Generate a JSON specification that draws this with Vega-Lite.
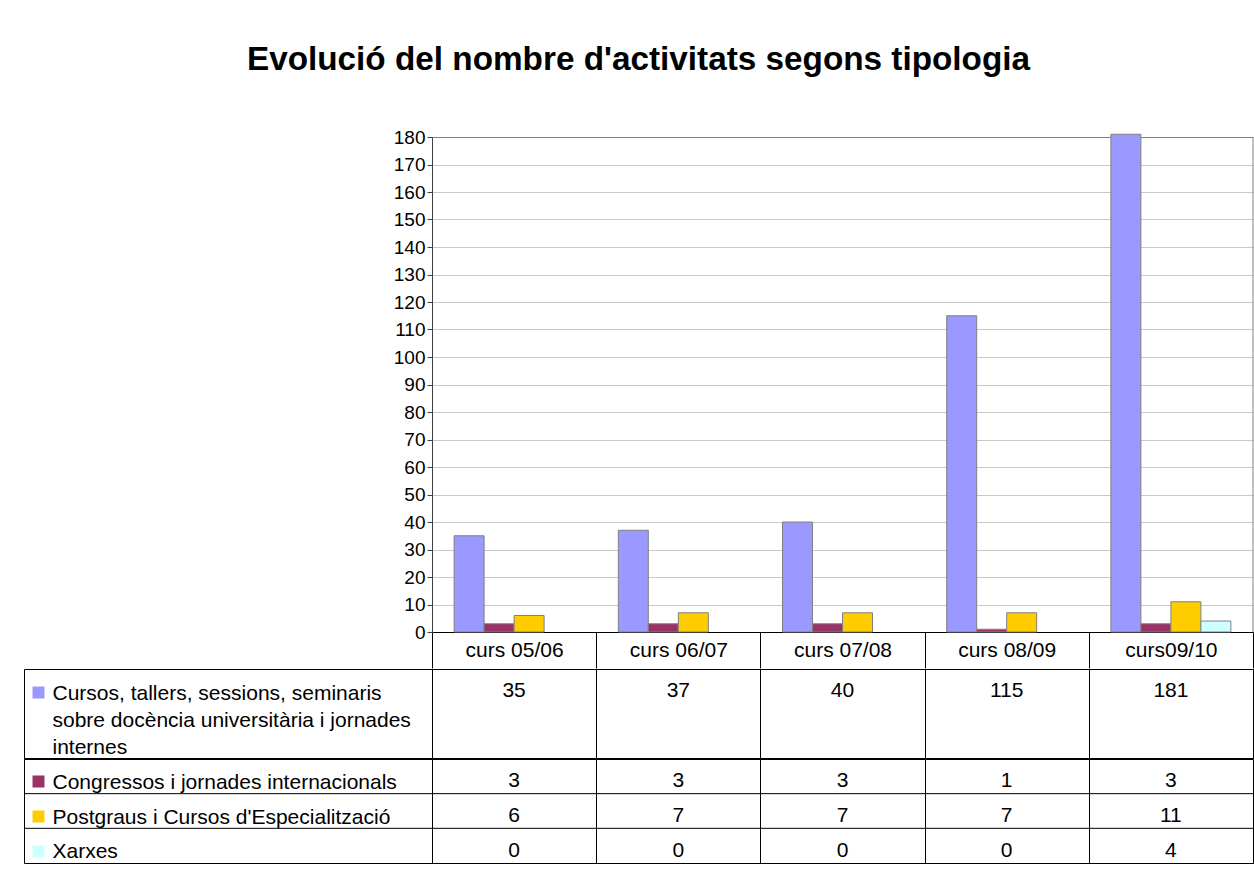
{
  "$schema": "https://vega.github.io/schema/vega-lite/v6.json",
  "background": "white",
  "padding": {"left": 23, "top": 42, "right": 0, "bottom": 0},
  "config": {"font": "Liberation Sans", "view": {"stroke": null}, "axis": {"labelFont": "Liberation Sans"}},
  "title": {"text": "Evolució del nombre d'activitats segons tipologia", "font": "Liberation Sans", "fontSize": 33.3, "fontWeight": "bold", "color": "black", "anchor": "middle", "offset": 51},
  "data": {"values": [
    {"curs": "curs 05/06", "serie": "Cursos, tallers, sessions, seminaris sobre docència universitària i jornades internes", "n": 35},
    {"curs": "curs 06/07", "serie": "Cursos, tallers, sessions, seminaris sobre docència universitària i jornades internes", "n": 37},
    {"curs": "curs 07/08", "serie": "Cursos, tallers, sessions, seminaris sobre docència universitària i jornades internes", "n": 40},
    {"curs": "curs 08/09", "serie": "Cursos, tallers, sessions, seminaris sobre docència universitària i jornades internes", "n": 115},
    {"curs": "curs09/10", "serie": "Cursos, tallers, sessions, seminaris sobre docència universitària i jornades internes", "n": 181},
    {"curs": "curs 05/06", "serie": "Congressos i jornades internacionals", "n": 3},
    {"curs": "curs 06/07", "serie": "Congressos i jornades internacionals", "n": 3},
    {"curs": "curs 07/08", "serie": "Congressos i jornades internacionals", "n": 3},
    {"curs": "curs 08/09", "serie": "Congressos i jornades internacionals", "n": 1},
    {"curs": "curs09/10", "serie": "Congressos i jornades internacionals", "n": 3},
    {"curs": "curs 05/06", "serie": "Postgraus i Cursos d'Especialització", "n": 6},
    {"curs": "curs 06/07", "serie": "Postgraus i Cursos d'Especialització", "n": 7},
    {"curs": "curs 07/08", "serie": "Postgraus i Cursos d'Especialització", "n": 7},
    {"curs": "curs 08/09", "serie": "Postgraus i Cursos d'Especialització", "n": 7},
    {"curs": "curs09/10", "serie": "Postgraus i Cursos d'Especialització", "n": 11},
    {"curs": "curs 05/06", "serie": "Xarxes", "n": 0},
    {"curs": "curs 06/07", "serie": "Xarxes", "n": 0},
    {"curs": "curs 07/08", "serie": "Xarxes", "n": 0},
    {"curs": "curs 08/09", "serie": "Xarxes", "n": 0},
    {"curs": "curs09/10", "serie": "Xarxes", "n": 4}
  ]},
  "spacing": -2,
  "resolve": {"scale": {"x": "independent", "y": "independent", "color": "independent", "xOffset": "independent"}},
  "vconcat": [
    {
      "width": 1229,
      "height": 495,
      "layer": [
        {
          "transform": [{"filter": "datum.n > 0"}],
          "mark": {"type": "bar", "stroke": "#808080", "strokeWidth": 1},
          "encoding": {
            "x": {"field": "curs", "type": "nominal", "sort": null,
              "scale": {"range": [408, 1229], "paddingInner": 0, "paddingOuter": 0},
              "axis": {"title": null, "labelAngle": 0, "labelFontSize": 21, "labelColor": "black", "labelBaseline": "middle", "labelPadding": -18, "tickBand": "extent", "tickSize": 36, "tickColor": "black", "domainColor": "black", "grid": false}},
            "xOffset": {"field": "serie", "type": "nominal",
              "sort": ["Cursos, tallers, sessions, seminaris sobre docència universitària i jornades internes", "Congressos i jornades internacionals", "Postgraus i Cursos d'Especialització", "Xarxes"],
              "scale": {"paddingInner": 0, "paddingOuter": 0.737}},
            "y": {"field": "n", "type": "quantitative", "scale": {"domain": [0, 180], "nice": false},
              "axis": {"title": null, "offset": -408, "values": [0, 10, 20, 30, 40, 50, 60, 70, 80, 90, 100, 110, 120, 130, 140, 150, 160, 170, 180],
                "labelFontSize": 19, "labelColor": "black", "labelPadding": 2, "tickSize": 5, "tickColor": "#404040", "domainColor": "#404040",
                "grid": true, "gridColor": {"condition": {"test": "datum.value === 180", "value": "#808080"}, "value": "#c8c8c8"}}},
            "color": {"field": "serie", "type": "nominal",
              "scale": {"domain": ["Cursos, tallers, sessions, seminaris sobre docència universitària i jornades internes", "Congressos i jornades internacionals", "Postgraus i Cursos d'Especialització", "Xarxes"],
                "range": ["#9999ff", "#993366", "#ffcc00", "#ccffff"]},
              "legend": null}
          }
        },
        {
          "transform": [{"filter": {"field": "curs", "equal": "curs09/10"}}, {"filter": {"field": "serie", "equal": "Xarxes"}}],
          "mark": {"type": "rule", "color": "#808080"},
          "encoding": {"x": {"field": "curs", "type": "nominal", "sort": null, "bandPosition": 1}}
        }
      ]
    },
    {
      "width": 1229,
      "height": 89,
      "view": {"stroke": "black"},
      "transform": [{"filter": {"field": "serie", "equal": "Cursos, tallers, sessions, seminaris sobre docència universitària i jornades internes"}}],
      "mark": {"type": "text", "fontSize": 21, "dy": -22.5, "color": "black"},
      "encoding": {
        "x": {"field": "curs", "type": "nominal", "sort": null,
          "scale": {"range": [408, 1229], "paddingInner": 0, "paddingOuter": 0},
          "axis": {"title": null, "orient": "top", "labels": false, "ticks": false, "domain": false, "grid": true, "tickBand": "extent", "gridColor": "black", "gridOpacity": 1, "minExtent": 0, "maxExtent": 0}},
        "y": {"field": "serie", "type": "nominal",
          "axis": {"title": null, "offset": -20, "domain": false, "grid": false, "ticks": true, "tickSize": 12, "tickWidth": 12, "tickCap": "butt", "tickColor": "#9999ff", "tickOffset": -22,
            "labelAlign": "left", "labelBaseline": "middle", "labelPadding": -20, "labelOffset": 1.5, "labelFontSize": 21, "labelColor": "black", "labelLimit": 1000, "labelLineHeight": 27,
            "labelExpr": "['Cursos, tallers, sessions, seminaris', 'sobre docència universitària i jornades', 'internes']", "minExtent": 0}},
        "text": {"field": "n", "type": "quantitative"}
      }
    },
    {
      "width": 1229,
      "height": 104,
      "view": {"stroke": "black"},
      "transform": [{"filter": {"field": "serie", "oneOf": ["Congressos i jornades internacionals", "Postgraus i Cursos d'Especialització", "Xarxes"]}}],
      "layer": [
        {
          "mark": {"type": "text", "fontSize": 21, "dy": 5, "color": "black"},
          "encoding": {
            "x": {"field": "curs", "type": "nominal", "sort": null,
              "scale": {"range": [408, 1229], "paddingInner": 0, "paddingOuter": 0},
              "axis": {"title": null, "orient": "top", "labels": false, "ticks": false, "domain": false, "grid": true, "tickBand": "extent", "gridColor": "black", "gridOpacity": 1, "minExtent": 0, "maxExtent": 0}},
            "y": {"field": "serie", "type": "nominal", "sort": ["Congressos i jornades internacionals", "Postgraus i Cursos d'Especialització", "Xarxes"],
              "axis": {"title": null, "offset": -20, "domain": false, "grid": false, "ticks": true, "tickSize": 12, "tickWidth": 12, "tickCap": "butt", "tickOffset": 5,
                "tickColor": {"condition": [{"test": "datum.value === 'Congressos i jornades internacionals'", "value": "#993366"}, {"test": "datum.value === 'Xarxes'", "value": "#ccffff"}], "value": "#ffcc00"},
                "labelAlign": "left", "labelBaseline": "middle", "labelPadding": -20, "labelOffset": 1, "labelFontSize": 21, "labelColor": "black", "labelLimit": 1000, "minExtent": 0}},
            "text": {"field": "n", "type": "quantitative"}
          }
        },
        {
          "transform": [{"filter": {"field": "curs", "equal": "curs 05/06"}}],
          "mark": {"type": "rule", "color": "black"},
          "encoding": {"y": {"field": "serie", "type": "nominal", "sort": ["Congressos i jornades internacionals", "Postgraus i Cursos d'Especialització", "Xarxes"], "bandPosition": 0}}
        }
      ]
    }
  ]
}
